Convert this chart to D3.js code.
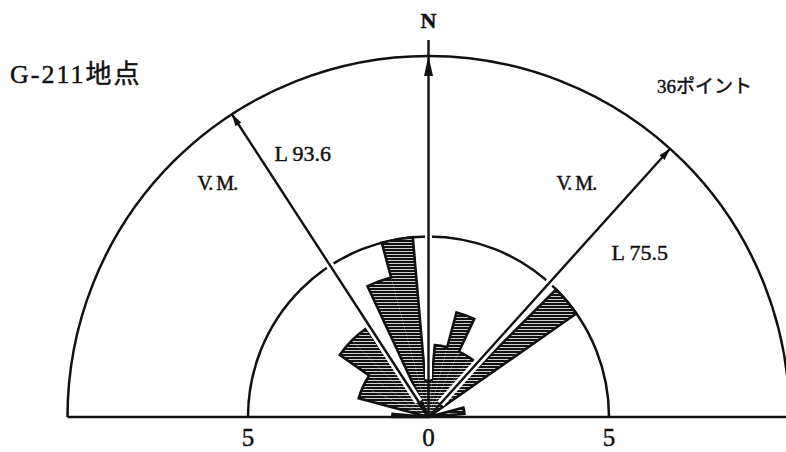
<!DOCTYPE html>
<html>
<head>
<meta charset="utf-8">
<script src="https://cdn.jsdelivr.net/npm/d3@7"></script>
<style>
  html, body { margin: 0; padding: 0; background: #fff; }
  svg { display: block; }
  text { fill: #111; stroke: #111; stroke-width: 0.45px; }
</style>
</head>
<body>
<svg id="chart" width="786" height="452"></svg>
<script>
// Orientation rose: 10-degree bins centred on N90°W ... N90°E (degrees from north, west negative)
const binCenters = [-90, -80, -70, -60, -50, -40, -30, -20, -10, 0, 10, 20, 30, 40, 50, 60, 70, 80, 90];
const binCounts  = [  1,   0,   2,   2,   3,   3,   0,   4,   5, 1,  2,  3,  2,  2,  5,  0,  0,  1,  0];

// Radial rings and baseline tick labels
const ringValues = [5, 10];
const tickValues = [-5, 0, 5];
const tickLabels = ["5", "0", "5"];

// Mean vectors (direction in degrees from north) and their labels
const vectorAngles = [-33, 42];
const vectorNames  = ["V. M.", "V. M."];
const vectorLabels = ["L 93.6", "L 75.5"];

const titleText = "G-211地点";
const countText = "36ポイント";
const northText = "N";

const svg = d3.select("#chart");
const cx = 428.5, cy = 417;
const serif = "'Liberation Serif', 'DejaVu Serif', 'Noto Sans CJK JP', serif";

const r = d3.scaleLinear().domain([0, 10]).range([0, 361]);
const x = d3.scaleLinear().domain([-10, 10]).range([cx - r(10), cx + r(10)]);
const rad = d => d * Math.PI / 180;
const polar = (deg, rr) => [rr * Math.sin(rad(deg)), -rr * Math.cos(rad(deg))];

// horizontal hatching for the petals
const defs = svg.append("defs");
const pat = defs.append("pattern")
  .attr("id", "hatch").attr("patternUnits", "userSpaceOnUse")
  .attr("width", 8).attr("height", 3);
pat.append("rect").attr("width", 8).attr("height", 3).attr("fill", "#fff");
pat.append("rect").attr("width", 8).attr("height", 2.2).attr("fill", "#111");

const g = svg.append("g").attr("transform", `translate(${cx},${cy})`);

// rings
g.selectAll("path.ring").data(ringValues).join("path")
  .attr("class", "ring")
  .attr("d", v => d3.arc()({innerRadius: r(v), outerRadius: r(v), startAngle: -Math.PI / 2, endAngle: Math.PI / 2}))
  .attr("fill", "none").attr("stroke", "#111").attr("stroke-width", 2.5);

// petals (clipped to the upper half)
const petals = binCenters.map((c, i) => ({
  start: Math.max(c - 5, -90), end: Math.min(c + 5, 90), n: binCounts[i]
}));

g.selectAll("path.petal").data(petals.filter(d => d.n > 0)).join("path")
  .attr("class", "petal")
  .attr("d", d => d3.arc()({innerRadius: 0, outerRadius: r(d.n), startAngle: rad(d.start), endAngle: rad(d.end)}))
  .attr("fill", "url(#hatch)").attr("stroke", "none");

// single outline round the whole rose
const outline = d3.path();
outline.moveTo(0, 0);
petals.forEach(d => {
  const R = r(d.n);
  const p0 = polar(d.start, R);
  outline.lineTo(p0[0], p0[1]);
  if (R > 0) outline.arc(0, 0, R, rad(d.start) - Math.PI / 2, rad(d.end) - Math.PI / 2);
});
outline.lineTo(0, 0);
g.append("path").attr("d", outline.toString())
  .attr("fill", "none").attr("stroke", "#111").attr("stroke-width", 2.6)
  .attr("stroke-linejoin", "miter");

// north axis with white halo
const nTop = -r(10) - 16;
g.append("line").attr("x1", 0).attr("y1", -r(1) - 2).attr("x2", 0).attr("y2", -r(10) + 4)
  .attr("stroke", "#fff").attr("stroke-width", 7);
g.append("line").attr("x1", 0).attr("y1", 0).attr("x2", 0).attr("y2", nTop)
  .attr("stroke", "#111").attr("stroke-width", 2.4);
g.append("path")
  .attr("d", `M0,${-r(10)} L-4.5,${-r(10) + 20} L4.5,${-r(10) + 20} Z`)
  .attr("fill", "#111");
svg.append("text").attr("x", cx).attr("y", cy + nTop - 12)
  .attr("text-anchor", "middle").attr("font-family", serif).attr("font-size", 22)
  .attr("font-weight", "bold").text(northText);

// mean vectors
const vecs = vectorAngles.map((a, i) => ({a, name: vectorNames[i], label: vectorLabels[i]}));
const vg = g.selectAll("g.vec").data(vecs).join("g").attr("class", "vec")
  .attr("transform", d => `rotate(${d.a})`);
vg.append("line").attr("x1", 0).attr("y1", -18).attr("x2", 0).attr("y2", -r(10) + 2)
  .attr("stroke", "#fff").attr("stroke-width", 8);
vg.append("line").attr("x1", 0).attr("y1", 0).attr("x2", 0).attr("y2", -r(10))
  .attr("stroke", "#111").attr("stroke-width", 2.4);
vg.append("path")
  .attr("d", `M0,${-r(10)} L-3.5,${-r(10) + 12} L3.5,${-r(10) + 12} Z`)
  .attr("fill", "#111");

// baseline
svg.append("line").attr("x1", x(-10)).attr("x2", 786).attr("y1", cy).attr("y2", cy)
  .attr("stroke", "#111").attr("stroke-width", 2.6);

// tick labels on the baseline
svg.selectAll("text.tick").data(tickValues).join("text")
  .attr("class", "tick")
  .attr("x", v => x(v)).attr("y", cy + 29)
  .attr("text-anchor", "middle").attr("font-family", serif).attr("font-size", 25)
  .text((v, i) => tickLabels[i]);

// vector annotations
const nameOffsets = [[-231, -227], [128, -227]];
const labelOffsets = [[-154, -256], [183, -157]];
svg.selectAll("text.vname").data(vecs).join("text")
  .attr("class", "vname")
  .attr("x", (d, i) => cx + nameOffsets[i][0]).attr("y", (d, i) => cy + nameOffsets[i][1])
  .attr("font-family", serif).attr("font-size", 20).attr("letter-spacing", -1)
  .text(d => d.name);
svg.selectAll("text.vlabel").data(vecs).join("text")
  .attr("class", "vlabel")
  .attr("x", (d, i) => cx + labelOffsets[i][0]).attr("y", (d, i) => cy + labelOffsets[i][1])
  .attr("font-family", serif).attr("font-size", 22).text(d => d.label);

// titles
svg.append("text").attr("x", 10).attr("y", 83)
  .attr("font-family", serif).attr("font-size", 26).attr("letter-spacing", 2)
  .text(titleText);
svg.append("text").attr("x", 657).attr("y", 93)
  .attr("font-family", serif).attr("font-size", 19)
  .text(countText);
</script>
</body>
</html>
